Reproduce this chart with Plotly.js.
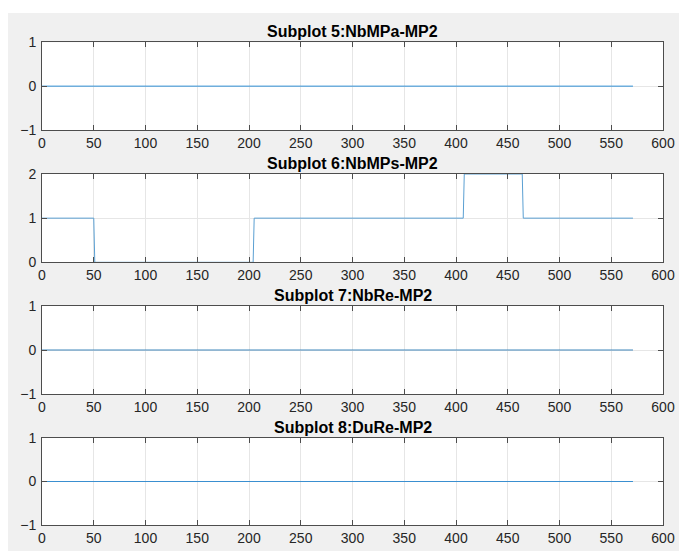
<!DOCTYPE html>
<html>
<head>
<meta charset="utf-8">
<script src="https://cdn.plot.ly/plotly-3.0.1.min.js"></script>
<style>
  html, body { margin: 0; padding: 0; background: #ffffff; }
  #plot { position: absolute; left: 8px; top: 13px; width: 671px; height: 538px; }
</style>
</head>
<body>
<div id="plot"></div>
<script>
// Titles of the four subplots
const titles = ['Subplot 5:NbMPa-MP2', 'Subplot 6:NbMPs-MP2', 'Subplot 7:NbRe-MP2', 'Subplot 8:DuRe-MP2'];

// Series (corner points of the sampled signals, sample index 0..571)
const nbMPaX = [0, 571];
const nbMPaY = [0, 0];
const nbMPsX = [0, 50, 51, 204, 205, 407, 408, 464, 465, 571];
const nbMPsY = [1, 1, 0, 0, 1, 1, 2, 2, 1, 1];
const nbReX = [0, 571];
const nbReY = [0, 0];
const duReX = [0, 571];
const duReY = [0, 0];

// Axis ticks
const xTicks = [0, 50, 100, 150, 200, 250, 300, 350, 400, 450, 500, 550, 600];
const yTicksA = [-1, 0, 1];
const yTicksB = [0, 1, 2];

const H = 538;
const plotTops = [29.3, 161, 293, 424.7];
const plotBots = [117, 249.3, 381, 512.3];

const series = [[nbMPaX, nbMPaY], [nbMPsX, nbMPsY], [nbReX, nbReY], [duReX, duReY]];
const yRanges = [[-1, 1], [0, 2], [-1, 1], [-1, 1]];
const yTickSets = [yTicksA, yTicksB, yTicksA, yTicksA];
const lineColors = ['#2f8fd6', '#5a9fd2', '#3f86bb', '#3a8fd0'];

const font = { family: 'Liberation Sans, Arial, Helvetica, sans-serif', size: 14, color: '#262626' };

const data = [];
const layout = {
  width: 671, height: H,
  paper_bgcolor: '#f0f0f0', plot_bgcolor: '#ffffff',
  margin: { l: 34, r: 16, t: 0, b: 0, pad: 0 },
  showlegend: false,
  font: font,
  annotations: []
};

for (let i = 0; i < 4; i++) {
  const n = i === 0 ? '' : String(i + 1);
  data.push({
    x: series[i][0], y: series[i][1],
    type: 'scatter', mode: 'lines',
    line: { color: lineColors[i], width: 1 },
    xaxis: 'x' + n, yaxis: 'y' + n, hoverinfo: 'none'
  });
  const dom = [1 - plotBots[i] / H, 1 - plotTops[i] / H];
  const common = {
    showline: true, mirror: 'ticks', linecolor: '#4d4d4d', linewidth: 1,
    ticks: 'inside', ticklen: 5, tickwidth: 1, tickcolor: '#4d4d4d',
    showgrid: true, gridcolor: '#e6e6e6', gridwidth: 1,
    zeroline: false, tickfont: font, fixedrange: true,
    ticklabeloverflow: 'allow'
  };
  layout['xaxis' + n] = Object.assign({}, common, {
    domain: [0, 1], range: [0, 600], tickmode: 'array', tickvals: xTicks,
    anchor: 'y' + n
  });
  layout['yaxis' + n] = Object.assign({}, common, {
    domain: dom, range: yRanges[i], tickmode: 'array', tickvals: yTickSets[i],
    anchor: 'x' + n, ticklabelstandoff: 2
  });
  layout.annotations.push({
    text: '<b>' + titles[i] + '</b>', showarrow: false,
    xref: 'paper', yref: 'paper', x: 0.5, y: dom[1],
    xanchor: 'center', yanchor: 'bottom', yshift: 0,
    font: { family: font.family, size: 16, color: '#000000' }
  });
}

Plotly.newPlot('plot', data, layout, { staticPlot: true });
</script>
</body>
</html>
